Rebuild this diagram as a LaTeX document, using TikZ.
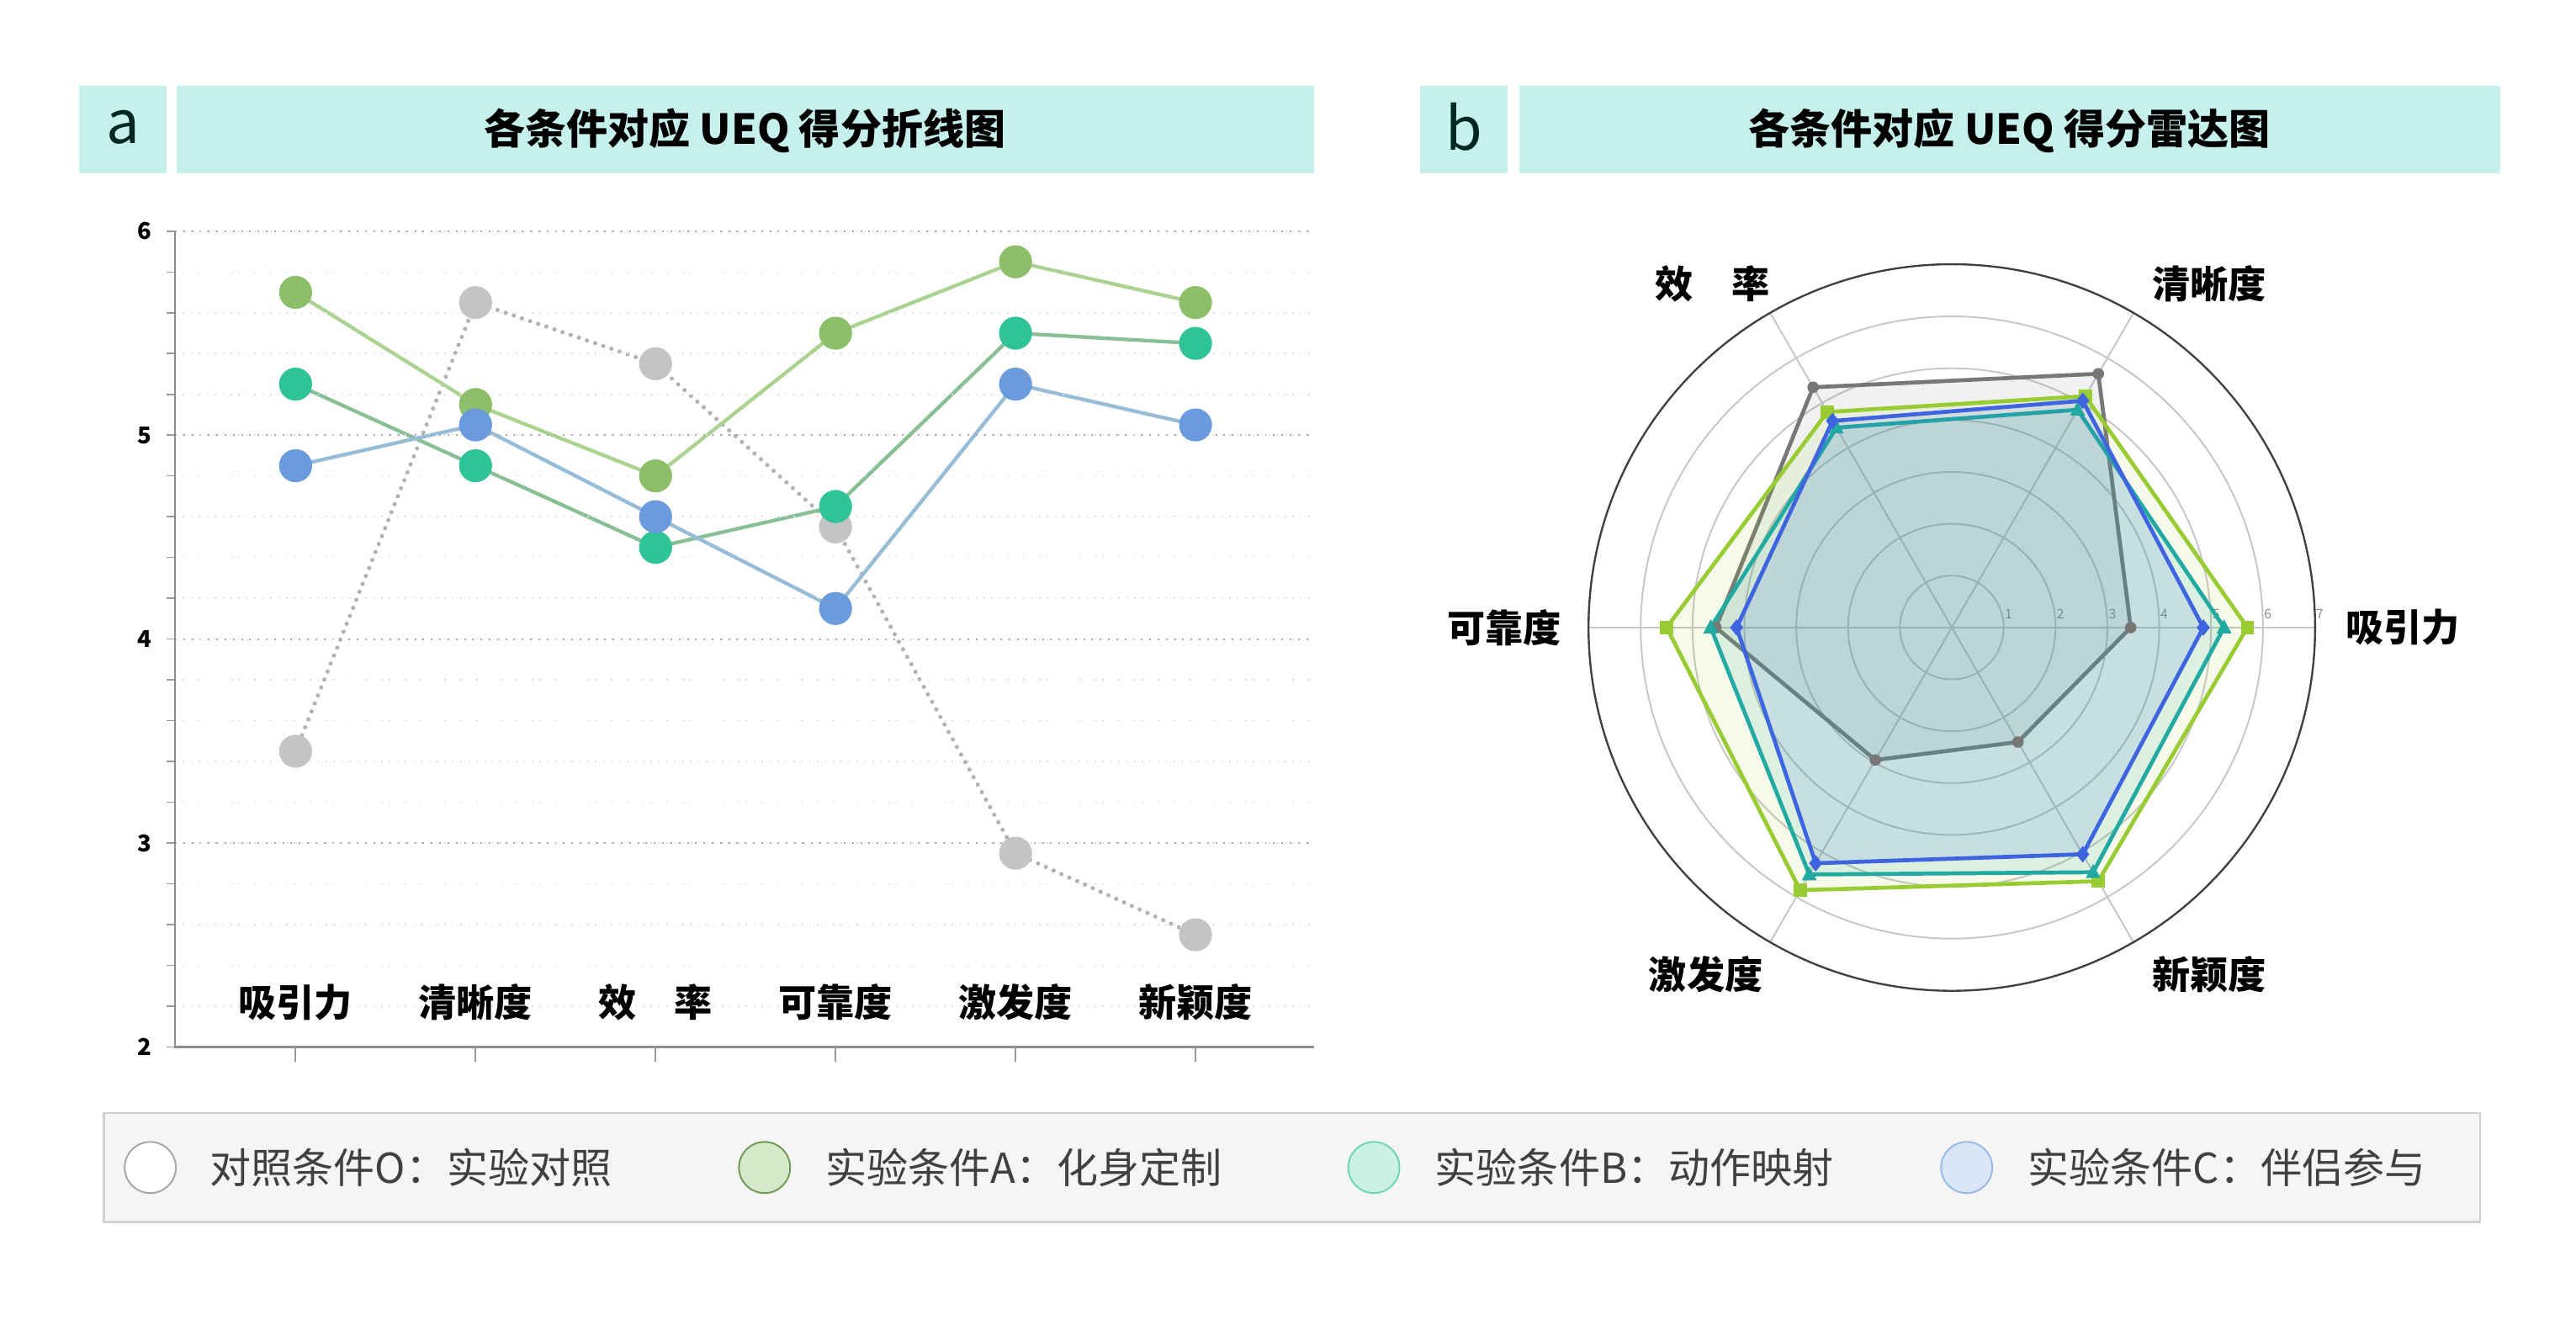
\documentclass[tikz,border=0pt]{standalone}
\usepackage{fontspec}
\setmainfont{Noto Sans CJK SC}
\usetikzlibrary{calc,backgrounds}
\definecolor{hdr}{HTML}{C5F0EC}
\definecolor{cO}{HTML}{C4C4C4}
\definecolor{cA}{HTML}{8DBF6A}
\definecolor{cB}{HTML}{2EC497}
\definecolor{cC}{HTML}{6A9BDD}
\definecolor{lA}{HTML}{ABD291}
\definecolor{lB}{HTML}{88BF95}
\definecolor{lC}{HTML}{96BCD8}
\definecolor{rO}{HTML}{777777}
\definecolor{rA}{HTML}{99CC33}
\definecolor{rB}{HTML}{22AAA2}
\definecolor{rC}{HTML}{3E64E0}
\tikzset{
 dotO/.style={circle,fill=cO,minimum size=10pt,inner sep=0},
 dotA/.style={circle,fill=cA,minimum size=10pt,inner sep=0},
 dotB/.style={circle,fill=cB,minimum size=10pt,inner sep=0},
 dotC/.style={circle,fill=cC,minimum size=10pt,inner sep=0},
 cat/.style={font=\fontsize{11.5}{12}\selectfont\bfseries},
 ylab/.style={font=\fontsize{7}{8}\selectfont\bfseries,anchor=east},
 leg/.style={font=\fontsize{12.5}{14}\selectfont,text=black!75,anchor=west},
 legc/.style={circle,minimum size=15.5pt,inner sep=0,line width=0.5pt},
}
\newcommand\yv[1]{634-(#1-2)*123.5}
\begin{document}
\begin{tikzpicture}[x=0.5pt,y=-0.5pt]
\useasboundingbox (0,0) rectangle (1560,799);
% headers
\fill[hdr] (48,52) rectangle (101,105);
\fill[hdr] (107,52) rectangle (796,105);
\fill[hdr] (860,52) rectangle (913,105);
\fill[hdr] (920,52) rectangle (1514,105);
\node[text=black!70!teal,font=\fontsize{18}{20}\selectfont] (la) at (74.5,77) {a};
\node[text=black!70!teal,font=\fontsize{18}{20}\selectfont] (lb) at (886.5,77) {b};
\node[font=\fontsize{12.5}{14}\selectfont\bfseries] (ta) at (451,79) {各条件对应 UEQ 得分折线图};
\node[font=\fontsize{12.5}{14}\selectfont\bfseries] (tb) at (1217,79) {各条件对应 UEQ 得分雷达图};
% line chart grid
\foreach \k in {0,...,20}{
  \draw[black!12,dotted,line width=0.4pt] (106,{140+\k*24.7}) -- (796,{140+\k*24.7});
  \draw[black!40,line width=0.4pt] (101,{140+\k*24.7}) -- (106,{140+\k*24.7});
}
\foreach \v in {3,4,5,6}{
  \draw[black!35,dotted,line width=0.5pt] (106,{\yv{\v}}) -- (796,{\yv{\v}});
  \node[ylab] at (99,{\yv{\v}}) {\v};
}
\node[ylab] at (99,634) {2};
\draw[black!45,line width=0.6pt] (106,140) -- (106,634) -- (796,634);
\foreach \x/\t in {179/吸引力,288/清晰度,397/效\hspace{1em}率,506/可靠度,615/激发度,724/新颖度}{
  \draw[black!40,line width=0.5pt] (\x,634) -- (\x,643);
  \node[cat] at (\x,607) {\t};
}
% data
\foreach \s/\vals in {O/{3.45,5.65,5.35,4.55,2.95,2.55},A/{5.7,5.15,4.8,5.5,5.85,5.65},B/{5.25,4.85,4.45,4.65,5.5,5.45},C/{4.85,5.05,4.6,4.15,5.25,5.05}}{
  \foreach \v [count=\i] in \vals{
    \node[dot\s] (\s\i) at ({179+(\i-1)*109},{\yv{\v}}) {};
  }
}
\begin{pgfonlayer}{background}
\draw[black!30,line width=1.3pt,line cap=round,dash pattern=on 0pt off 2.6pt] (O1.center)--(O2.center)--(O3.center)--(O4.center)--(O5.center)--(O6.center);
\draw[lA,line width=1.1pt] (A1.center)--(A2.center)--(A3.center)--(A4.center)--(A5.center)--(A6.center);
\draw[lB,line width=1.1pt] (B1.center)--(B2.center)--(B3.center)--(B4.center)--(B5.center)--(B6.center);
\draw[lC,line width=1.1pt] (C1.center)--(C2.center)--(C3.center)--(C4.center)--(C5.center)--(C6.center);
\end{pgfonlayer}
% radar
\coordinate (c) at (1182,380);
\foreach \r in {1,...,6}{
  \draw[black!22,line width=0.5pt] (c) circle[radius=\r*31.4];
  \node[text=black!45,font=\fontsize{4}{5}\selectfont] at ($(c)+(\r*31.4+3,-8)$) {\r};
}
\node[text=black!45,font=\fontsize{4}{5}\selectfont] at ($(c)+(7*31.4+3,-8)$) {7};
\foreach \k in {0,...,5}{ \draw[black!22,line width=0.5pt] (c) -- ($(c)+(-60*\k:220)$); }
\draw[black!75,line width=0.6pt] (c) circle[radius=220];
\foreach \s/\col/\op/\vals in {O/rO/0.1/{3.45,5.65,5.35,4.55,2.95,2.55},A/rA/0.1/{5.7,5.15,4.8,5.5,5.85,5.65},B/rB/0.12/{5.25,4.85,4.45,4.65,5.5,5.45},C/rC/0.12/{4.85,5.05,4.6,4.15,5.25,5.05}}{
  \foreach \v [count=\i] in \vals{
    \coordinate (r\s\i) at ($(c)+({-60*(\i-1)}:{\v*31.4})$);
  }
  \draw[\col,line width=1.2pt,fill=\col,fill opacity=\op] (r\s1)--(r\s2)--(r\s3)--(r\s4)--(r\s5)--(r\s6)--cycle;
}
\foreach \i in {1,...,6}{
  \fill[rO] (rO\i) circle[radius=3.5];
  \fill[rA] ($(rA\i)+(-4,-4)$) rectangle ($(rA\i)+(4,4)$);
  \fill[rB] ($(rB\i)+(0,-5)$) -- ($(rB\i)+(4.5,3.5)$) -- ($(rB\i)+(-4.5,3.5)$) -- cycle;
  \fill[rC] ($(rC\i)+(0,-5)$) -- ($(rC\i)+(4,0)$) -- ($(rC\i)+(0,5)$) -- ($(rC\i)+(-4,0)$) -- cycle;
}
\node[cat] at (1455,380) {吸引力};
\node[cat] at (1338,172) {清晰度};
\node[cat] at (1037,172) {效\hspace{1em}率};
\node[cat] at (911,380) {可靠度};
\node[cat] at (1033,590) {激发度};
\node[cat] at (1338,590) {新颖度};
% legend
\draw[black!18,fill=black!4,line width=0.6pt] (63,674) rectangle (1502,740);
\node[legc,draw=black!35,fill=white] (g1) at (91,707) {};
\node[leg] at (120,707) {对照条件O：实验对照};
\node[legc,draw=cA!80!black,fill=cA!35] (g2) at (463,707) {};
\node[leg] at (493,707) {实验条件A：化身定制};
\node[legc,draw=cB!70,fill=cB!25] (g3) at (832,707) {};
\node[leg] at (862,707) {实验条件B：动作映射};
\node[legc,draw=cC!70,fill=cC!25] (g4) at (1191,707) {};
\node[leg] at (1221,707) {实验条件C：伴侣参与};
\end{tikzpicture}
\end{document}
